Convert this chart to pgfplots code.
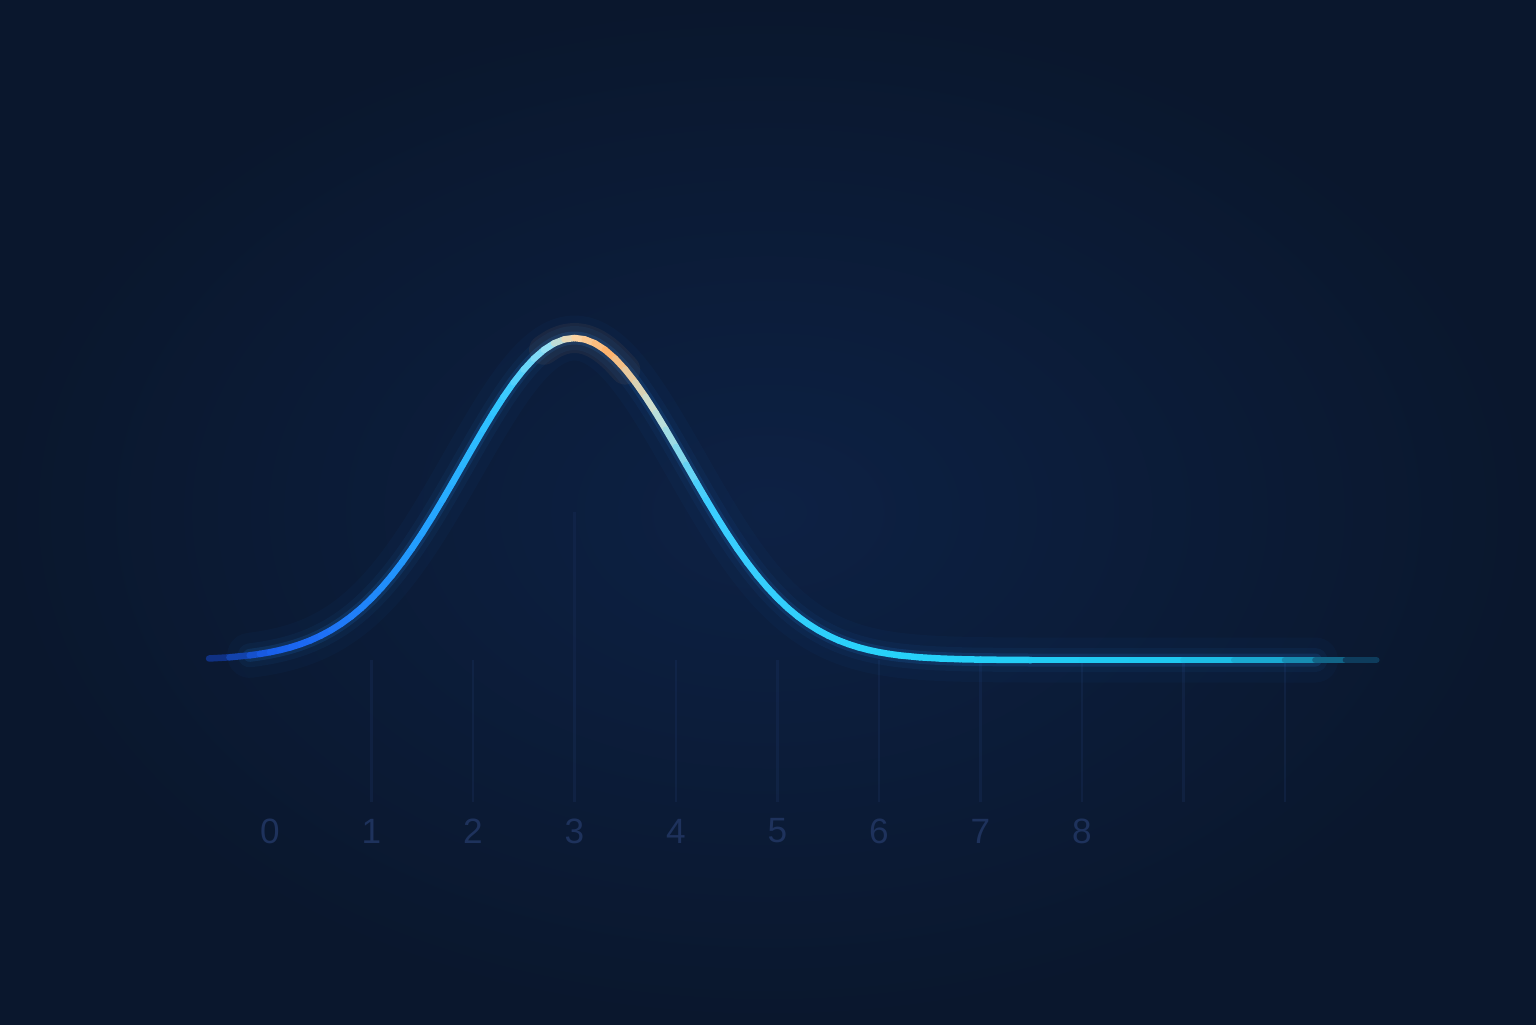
\documentclass[border=0pt]{standalone}
\usepackage{pgfplots}
\pgfplotsset{compat=1.18}
\usepackage{pgfplotstable}
\usepackage{fontspec}
\setmainfont{Liberation Sans}

\definecolor{bgouter}{RGB}{10,23,45}
\definecolor{bginner}{RGB}{13,33,68}
\definecolor{glowblue}{RGB}{40,150,255}
\definecolor{glowpeach}{RGB}{255,175,110}
\definecolor{faint}{RGB}{28,52,98}
\definecolor{ticktext}{RGB}{30,50,92}

% bell curve (peak height = 1)
\pgfplotstableread{
x     y
-0.6  0.0047
-0.4  0.0084
-0.2  0.0145
-0.1  0.0189
0.0   0.0243
0.1   0.0310
0.2   0.0392
0.3   0.0492
0.4   0.0612
0.5   0.0756
0.6   0.0926
0.7   0.1124
0.8   0.1353
0.9   0.1616
1.0   0.1915
1.1   0.2250
1.2   0.2622
1.3   0.3030
1.4   0.3472
1.5   0.3946
1.6   0.4449
1.7   0.4974
1.8   0.5515
1.9   0.6065
2.0   0.6615
2.1   0.7155
2.2   0.7676
2.3   0.8167
2.4   0.8618
2.5   0.9019
2.6   0.9360
2.7   0.9635
2.8   0.9836
2.9   0.9959
3.0   1.0000
3.1   0.9959
3.2   0.9836
3.3   0.9635
3.4   0.9360
3.5   0.9019
3.6   0.8618
3.7   0.8167
3.8   0.7676
3.9   0.7155
4.0   0.6615
4.1   0.6065
4.2   0.5515
4.3   0.4974
4.4   0.4449
4.5   0.3946
4.6   0.3472
4.7   0.3030
4.8   0.2622
4.9   0.2250
5.0   0.1915
5.1   0.1616
5.2   0.1353
5.3   0.1124
5.4   0.0926
5.5   0.0756
5.6   0.0612
5.7   0.0492
5.8   0.0392
5.9   0.0310
6.0   0.0243
6.1   0.0189
6.2   0.0145
6.4   0.0084
6.6   0.0047
6.8   0.0025
7.0   0.0012
7.5   0.0
8.0   0.0
8.5   0.0
9.0   0.0
9.5   0.0
10.0  0.0
10.3  0.0
10.6  0.0
10.9  0.0
}\bell

\begin{document}
\begin{tikzpicture}
\begin{axis}[
    scale only axis,
    width=15.36cm, height=10.24cm,
    xmin=-2.660, xmax=12.473,
    ymin=-1.1304, ymax=2.0497,
    axis line style={draw=none},
    axis background/.style={inner color=bginner, outer color=bgouter},
    ytick=\empty,
    xtick={0,1,2,3,4,5,6,7,8},
    major tick length=0pt,
    /pgf/number format/assume math mode=true,
    xticklabel style={anchor=center, yshift=1.93cm, text=ticktext,
        font=\fontsize{10}{10}\selectfont},
    colormap={glow}{
        rgb255(0cm)=(14,40,110)
        rgb255(0.6cm)=(25,95,235)
        rgb255(1.1cm)=(30,110,245)
        rgb255(2.1cm)=(35,160,255)
        rgb255(2.9cm)=(50,200,255)
        rgb255(3.35cm)=(150,225,245)
        rgb255(3.6cm)=(250,215,170)
        rgb255(3.95cm)=(255,180,110)
        rgb255(4.4cm)=(200,225,215)
        rgb255(4.9cm)=(60,205,255)
        rgb255(6.6cm)=(40,210,250)
        rgb255(9.6cm)=(30,200,240)
        rgb255(10.6cm)=(25,160,200)
        rgb255(11.5cm)=(12,40,70)
    },
    point meta min=-0.6, point meta max=10.9,
]
% faint grid stubs under the baseline
\addplot[ycomb, faint, line width=0.6pt, mark=none, opacity=0.3] coordinates {
    (1,-0.44) (2,-0.44) (3,-0.44) (4,-0.44) (5,-0.44)
    (6,-0.44) (7,-0.44) (8,-0.44) (9,-0.44) (10,-0.44)
};
\addplot[ycomb, faint, line width=0.6pt, mark=none, opacity=0.25] coordinates {(3,0.46)};

% glow layers
\addplot[glowblue, line width=0.45cm, opacity=0.03, line join=round, line cap=round, smooth]
    table[x=x, y=y, restrict x to domain=-0.3:10.4] {\bell};
\addplot[glowblue, line width=0.24cm, opacity=0.05, line join=round, line cap=round, smooth]
    table[x=x, y=y, restrict x to domain=-0.3:10.4] {\bell};
\addplot[glowblue, line width=0.13cm, opacity=0.12, line join=round, line cap=round, smooth]
    table[x=x, y=y, restrict x to domain=-0.2:10.5] {\bell};
\addplot[glowpeach, line width=0.30cm, opacity=0.06, line join=round, line cap=round, smooth]
    table[x=x, y=y, restrict x to domain=2.7:3.5] {\bell};

% the curve itself, coloured along x
\addplot[mesh, point meta=x, line width=0.065cm, line join=round, line cap=round]
    table[x=x, y=y] {\bell};
\end{axis}
\pgfresetboundingbox
\path (current axis.south west) rectangle (current axis.north east);
\end{tikzpicture}
\end{document}
